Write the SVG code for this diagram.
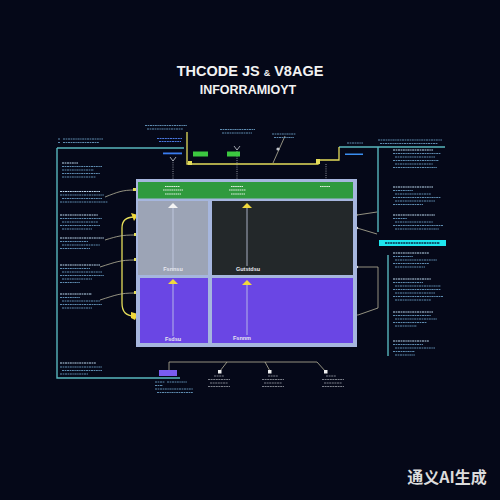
<svg xmlns="http://www.w3.org/2000/svg" width="500" height="500" viewBox="0 0 500 500">
<defs>
<style>
.bg{fill:#050818}
.title{font-family:"Liberation Sans",Arial,sans-serif;font-weight:bold;fill:#f2f2f2;text-anchor:middle}
.lbl{font-family:"Liberation Sans",Arial,sans-serif;font-weight:bold;font-size:5.5px;fill:#e8e8f0;text-anchor:middle}
.tx{fill:none;stroke:#6fa4cc;stroke-width:0.85;stroke-dasharray:2.2 0.6 1.4 0.6}
.txh{fill:none;stroke:#bcd8ee;stroke-width:1;stroke-dasharray:2.2 0.6 1.4 0.6}
.txg{fill:none;stroke:#9aa0a8;stroke-width:0.8;stroke-dasharray:2 0.6}
.teal{fill:none;stroke:#58b6bd;stroke-width:1.4}
.yel{fill:none;stroke:#e4dc5a;stroke-width:1.3}
.con{fill:none;stroke:#b8b49a;stroke-width:0.8}
.dot{fill:none;stroke:#b0b4bc;stroke-width:0.8;stroke-dasharray:1 1.2}
.frame{fill:#a6b6de}
.vline{stroke:#c8d0e8;stroke-width:0.8}
.ya{fill:#f0d83c}
.wa{fill:#f4f4f4}
</style>
</defs>
<rect class="bg" x="0" y="0" width="500" height="500"/>

<g id="title">
<text class="title" x="250" y="76" font-size="14.5">THCODE JS <tspan font-size="9">&amp;</tspan> V8AGE</text>
<text class="title" x="248" y="94" font-size="12.5">INFORRAMIOYT</text>
</g>

<g id="connectors">
<path class="teal" d="M57 148 H184"/>
<path class="teal" d="M57 148 V378 H180"/>
<path class="teal" d="M339 147 H445"/>
<path class="teal" d="M378 147 V232"/>
<path class="teal" d="M388 255 V356"/>
<path class="yel" d="M187 132 V164 H318 V160 H339 V147"/>
<rect x="188" y="161" width="4" height="4" fill="#e4dc5a"/>
<rect x="316" y="159" width="4" height="5" fill="#e4dc5a"/>
<path class="dot" d="M173 160 V182"/>
<path class="dot" d="M237 149 V182"/>
<path class="dot" d="M326 164 V182"/>
<path d="M170 157 L173 161 L176 157 M234 146 L237 150 L240 146" fill="none" stroke="#b0b4bc" stroke-width="0.9"/>
<path class="con" d="M285 136 L273 163"/>
<circle cx="278" cy="149" r="1.6" fill="#c0c4cc"/>
<path class="con" d="M105 197 C118 192 122 190 135 190"/>
<path class="yel" d="M134 217 C126 217 122 220 122 228 V303 C122 311 126 316 134 316"/>
<path class="con" d="M105 240 C118 236 122 235 135 235"/>
<path class="con" d="M100 267 C116 262 120 260 135 260"/>
<path class="con" d="M100 300 C116 295 120 293 135 293"/>
<rect x="133" y="188" width="3" height="3" fill="#e4dc5a"/>
<rect x="134" y="233" width="3" height="3" fill="#e4dc5a"/>
<rect x="134" y="258" width="3" height="3" fill="#e4dc5a"/>
<rect x="134" y="291" width="3" height="3" fill="#e4dc5a"/>
<path class="ya" d="M131 213 L138 215 L134 221 Z"/>
<path class="ya" d="M131 312 L138 314 L135 320 L131 318 Z"/>
<path class="con" d="M357 215 L377 212"/>
<path class="con" d="M357 228 L377 234"/>
<path class="con" d="M357 267 H378 V308 L358 315"/>
<path d="M353 212 L358 215 L353 218 Z" fill="#d8cfb0"/>
<path d="M353 312 L358 315 L353 318 Z" fill="#d8cfb0"/>
<circle cx="357" cy="228" r="1.2" fill="#d8d8d8"/>
<circle cx="357" cy="267" r="1.2" fill="#d8d8d8"/>
<path class="con" d="M169 370 V362 H317 L326 372"/>
<path class="con" d="M227 362 L220 371"/>
<path class="con" d="M265 362 L270 371"/>
<rect x="218" y="370" width="3.5" height="3.5" fill="#eee"/>
<rect x="268" y="370" width="3.5" height="3.5" fill="#eee"/>
<rect x="324" y="370" width="3.5" height="3.5" fill="#eee"/>
</g>

<g id="main-box">
<rect class="frame" x="136" y="179" width="221" height="168"/>
<rect x="138" y="182" width="215" height="16.5" fill="#2f9a3e"/>
<rect x="138" y="201" width="70" height="74" fill="#9ca4b6"/>
<rect x="212" y="201" width="141" height="74" fill="#23282a"/>
<rect x="140" y="278" width="68" height="65" fill="#6a46e4"/>
<rect x="212" y="278" width="141" height="65" fill="#6a46e4"/>
</g>

<g id="header-labels">
<path d="M165 186.5 h15 M163 190 h20 M165 194 h16" fill="none" stroke="#e0f0e0" stroke-width="1.1" stroke-dasharray="1.6 0.5"/>
<path d="M231 186.5 h12 M229 190 h17 M231 194 h14" fill="none" stroke="#e0f0e0" stroke-width="1.1" stroke-dasharray="1.6 0.5"/>
<path d="M320 186.5 h10" fill="none" stroke="#e0f0e0" stroke-width="1.1" stroke-dasharray="1.6 0.5"/>
</g>

<g id="cell-gray">
<line class="vline" x1="173" y1="206" x2="173" y2="269"/>
<path class="wa" d="M168 208 L173 203 L178 208 Z"/>
<text class="lbl" x="173" y="271">Fsnnsu</text>
</g>
<g id="cell-dark">
<line class="vline" x1="247" y1="206" x2="247" y2="266"/>
<path class="ya" d="M242 208 L247 203 L252 208 Z"/>
<text class="lbl" x="248" y="271">Gutstdsu</text>
</g>
<g id="cell-purple-left">
<line class="vline" x1="173" y1="283" x2="173" y2="336"/>
<path class="ya" d="M168 284 L173 279 L178 284 Z"/>
<text class="lbl" x="173" y="341">Fsdsu</text>
</g>
<g id="cell-purple-right">
<line class="vline" x1="247" y1="283" x2="247" y2="335"/>
<path class="ya" d="M242 285 L247 280 L252 285 Z"/>
<text class="lbl" x="242" y="340">Fsnnm</text>
</g>

<g id="top-notes">
<path class="tx" d="M58 139 h2 M63 139 h40 M58 142.5 h2 M63 142.5 h36"/>
<path class="tx" d="M145 125.5 h42 M147 129 h36"/>
<path d="M157 138.5 h25 M159 141.5 h22" fill="none" stroke="#4a78e0" stroke-width="1" stroke-dasharray="2 0.6"/>
<rect x="163" y="152.5" width="19" height="1.8" fill="#3a7cf0"/>
<rect x="193" y="151.5" width="15" height="5" fill="#3cc840"/>
<rect x="227" y="151.5" width="13" height="5" fill="#3cc840"/>
<path class="tx" d="M220 129.5 h35 M222 133 h30"/>
<path class="tx" d="M272 134 h24 M274 137.5 h20"/>
<path class="tx" d="M347 143 h16"/>
<rect x="345" y="153.5" width="18" height="1.5" fill="#3a8ef0"/>
<path class="tx" d="M378 140 h64 M380 143.5 h58"/>
</g>

<g id="left-notes">
<path class="txh" d="M62 163 h16"/>
<path class="tx" d="M62 166.5 h40 M62 170 h32 M62 173.5 h38 M62 177 h34"/>
<path class="txh" d="M60 191.5 h40"/>
<path class="tx" d="M60 195 h44 M62 198.5 h40 M60 202 h48"/>
<path class="txh" d="M60 215 h38"/>
<path class="tx" d="M60 218.5 h42 M62 222 h36 M60 225.5 h40 M62 229 h30"/>
<path class="txh" d="M60 238 h44"/>
<path class="tx" d="M60 241.5 h28 M62 245 h38 M60 248.5 h30"/>
<path class="txh" d="M60 265 h40"/>
<path class="tx" d="M60 268.5 h30 M62 272 h40 M60 275.5 h44 M62 279 h30 M60 282.5 h20"/>
<path class="txh" d="M60 294 h32"/>
<path class="tx" d="M60 297.5 h20 M62 301 h38 M60 304.5 h42 M62 308 h30"/>
<path class="txh" d="M60 363 h36"/>
<path class="tx" d="M60 367 h42 M62 370.5 h40 M60 374 h28"/>
</g>

<g id="right-notes">
<path class="txh" d="M393 150 h40"/>
<path class="tx" d="M393 153.5 h48 M395 157 h40 M393 160.5 h46 M395 164 h38 M393 167.5 h44"/>
<path class="txh" d="M393 187 h40"/>
<path class="tx" d="M393 190.5 h20 M395 194 h36 M393 197.5 h48 M395 201 h40 M393 204.5 h30"/>
<path class="txh" d="M393 215 h42"/>
<path class="tx" d="M393 218.5 h14 M395 222 h38 M393 225.5 h50 M395 229 h44"/>
<rect x="379" y="240" width="67" height="6" fill="#1ee6ee"/>
<path d="M385 243 h55" fill="none" stroke="#0b2a48" stroke-width="1.6" stroke-dasharray="2 0.6"/>
<path class="txh" d="M393 253 h36"/>
<path class="tx" d="M393 256.5 h20 M395 260 h42 M393 263.5 h36 M395 267 h30"/>
<path class="txh" d="M393 279 h38"/>
<path class="tx" d="M393 282.5 h30 M395 286 h46 M393 289.5 h48 M395 293 h40 M393 296.5 h50 M395 300 h36"/>
<path class="txh" d="M393 312 h40"/>
<path class="tx" d="M393 315.5 h38 M395 319 h42 M393 322.5 h34 M395 326 h22"/>
<path class="txh" d="M393 341 h36"/>
<path class="tx" d="M393 344.5 h30 M395 348 h40 M393 351.5 h22 M395 355 h20"/>
</g>

<g id="bottom-notes">
<rect x="159" y="370" width="18" height="6" fill="#7a5cf0"/>
<path class="tx" d="M155 382 h10 M167 382 h20 M155 385.5 h8 M155 389 h38 M157 392.5 h36"/>
<path class="txg" d="M214 376 h10 M208 379.5 h22 M210 383 h18 M208 386.5 h22"/>
<path class="txg" d="M268 376 h10 M262 379.5 h22 M264 383 h18 M262 386.5 h22"/>
<path class="txg" d="M326 376 h10 M322 379.5 h22 M324 383 h18 M322 386.5 h22"/>
</g>

<text x="447" y="483" font-family="'Noto Sans CJK SC','Liberation Sans',sans-serif" font-weight="bold" font-size="16" fill="#dcdcdc" text-anchor="middle">通义AI生成</text>
</svg>
